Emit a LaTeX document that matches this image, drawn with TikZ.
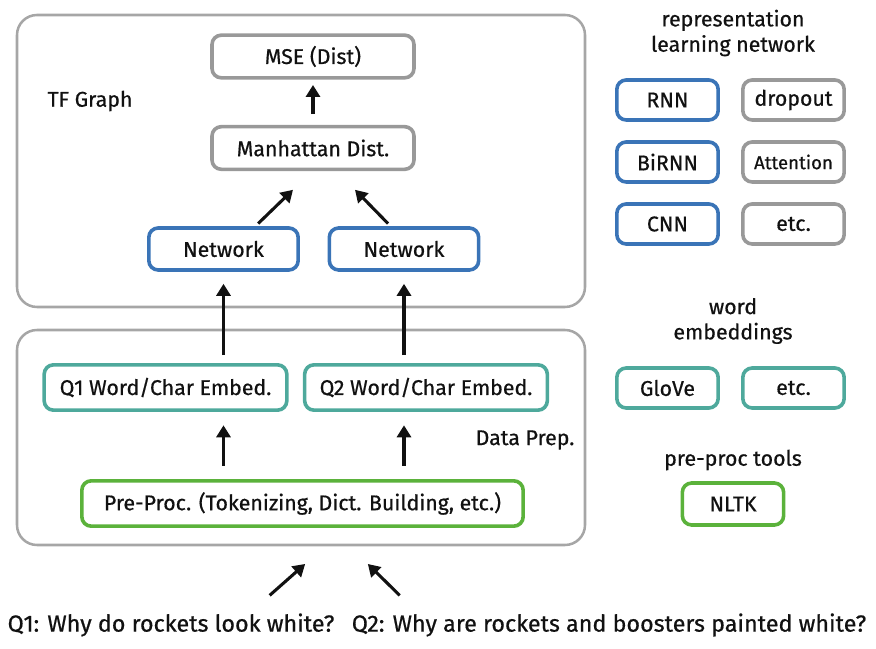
\documentclass[tikz,border=0pt]{standalone}
\usepackage{fontspec}
\setmainfont{Fira Sans}[FakeBold=0.6]
\usepackage{xcolor}
\usetikzlibrary{arrows.meta}
\definecolor{opgray}{HTML}{999999}
\definecolor{netblue}{HTML}{3A74B7}
\definecolor{embteal}{HTML}{4EA99C}
\definecolor{prepgreen}{HTML}{5BB23B}
\definecolor{framegray}{HTML}{A6A6A6}
\definecolor{inkblack}{HTML}{111111}
\tikzset{
  opbox/.style={draw=#1,line width=2.7pt,rounded corners=7pt,fill=white,inner sep=0pt,font=\fontsize{16}{19}\selectfont,text=inkblack},
  bigbox/.style={opbox=#1,minimum width=151.5pt,minimum height=32pt},
  smallbox/.style={opbox=#1,minimum width=76pt,minimum height=30pt},
  framebox/.style={draw=framegray,line width=1.9pt,rounded corners=15pt},
  flowarrow/.style={-{Triangle[length=9pt,width=10.5pt]},draw=inkblack,line width=2.3pt},
  headtext/.style={font=\fontsize{16}{19}\selectfont,align=center,text=inkblack},
  asktext/.style={font=\fontsize{17.5}{20}\selectfont,text=inkblack},
}

\begin{document}
\begin{tikzpicture}[x=0.75pt,y=-0.75pt]
  \useasboundingbox (0,0) rectangle (876,649);
  % frames
  \draw[framebox] (17,15) rectangle (585,307);
  \draw[framebox] (17,330) rectangle (585,545);
  \node[headtext] (tflabel) at (90,101) {TF Graph};
  \node[headtext] (dplabel) at (525,440) {Data Prep.};
  % TF graph
  \node[bigbox=opgray] (mse) at (313,56.5) {MSE (Dist)};
  \node[bigbox=opgray] (manh) at (313,148) {Manhattan Dist.};
  \node[opbox=netblue,minimum width=112pt,minimum height=31.5pt] (net1) at (223.5,249) {Network};
  \node[opbox=netblue,minimum width=112pt,minimum height=31.5pt] (net2) at (404,249) {Network};
  % data prep
  \node[opbox=embteal,minimum width=182pt,minimum height=34pt] (emb1) at (165.5,387.5) {Q1 Word/Char Embed.};
  \node[opbox=embteal,minimum width=182pt,minimum height=34pt] (emb2) at (426,387.5) {Q2 Word/Char Embed.};
  \node[opbox=prepgreen,minimum width=331pt,minimum height=34pt] (prep) at (302.5,503.5) {Pre-Proc. (Tokenizing, Dict. Building, etc.)};
  % questions
  \node[asktext] (q1) at (171,625) {Q1: Why do rockets look white?};
  \node[asktext] (q2) at (609,625) {Q2: Why are rockets and boosters painted white?};
  % legend
  \node[headtext] (replabel) at (733,33) {representation\\learning network};
  \node[smallbox=netblue] (rnn) at (667.5,100) {RNN};
  \node[smallbox=opgray] (drop) at (793.5,100) {dropout};
  \node[smallbox=netblue] (birnn) at (667.5,162) {BiRNN};
  \node[smallbox=opgray,font=\fontsize{14}{17}\selectfont] (attn) at (793.5,162) {Attention};
  \node[smallbox=netblue] (cnn) at (667.5,224) {CNN};
  \node[smallbox=opgray] (netetc) at (793.5,224) {etc.};
  \node[headtext] (emblabel) at (733,321) {word\\embeddings};
  \node[smallbox=embteal] (glove) at (667.5,388) {GloVe};
  \node[smallbox=embteal] (embetc) at (793.5,388) {etc.};
  \node[headtext] (toollabel) at (733,460) {pre-proc tools};
  \node[smallbox=prepgreen,minimum height=31.5pt] (nltk) at (733,504) {NLTK};
  % arrows
  \draw[flowarrow,shorten <=8pt,shorten >=4pt] (manh) -- (mse);
  \draw[flowarrow] ([xshift=26pt,yshift=2pt]net1.north) -- ([xshift=-15pt,yshift=-14pt]manh.south);
  \draw[flowarrow] ([xshift=-12pt,yshift=2pt]net2.north) -- ([xshift=31.5pt,yshift=-14pt]manh.south);
  \draw[flowarrow,shorten <=6pt,shorten >=9pt] (emb1.north -| net1.south) -- (net1.south);
  \draw[flowarrow,shorten <=6pt,shorten >=9pt] (emb2.north -| net2.south) -- (net2.south);
  \draw[flowarrow,shorten <=10pt,shorten >=10pt] (prep.north -| net1.south) -- (emb1.south -| net1.south);
  \draw[flowarrow,shorten <=10pt,shorten >=10pt] (prep.north -| net2.south) -- (emb2.south -| net2.south);
  \draw[flowarrow] ([xshift=74pt,yshift=10pt]q1.north) -- ([xshift=2pt,yshift=-27pt]prep.south);
  \draw[flowarrow] ([xshift=-157pt,yshift=10pt]q2.north) -- ([xshift=49pt,yshift=-27pt]prep.south);
\end{tikzpicture}
\end{document}
